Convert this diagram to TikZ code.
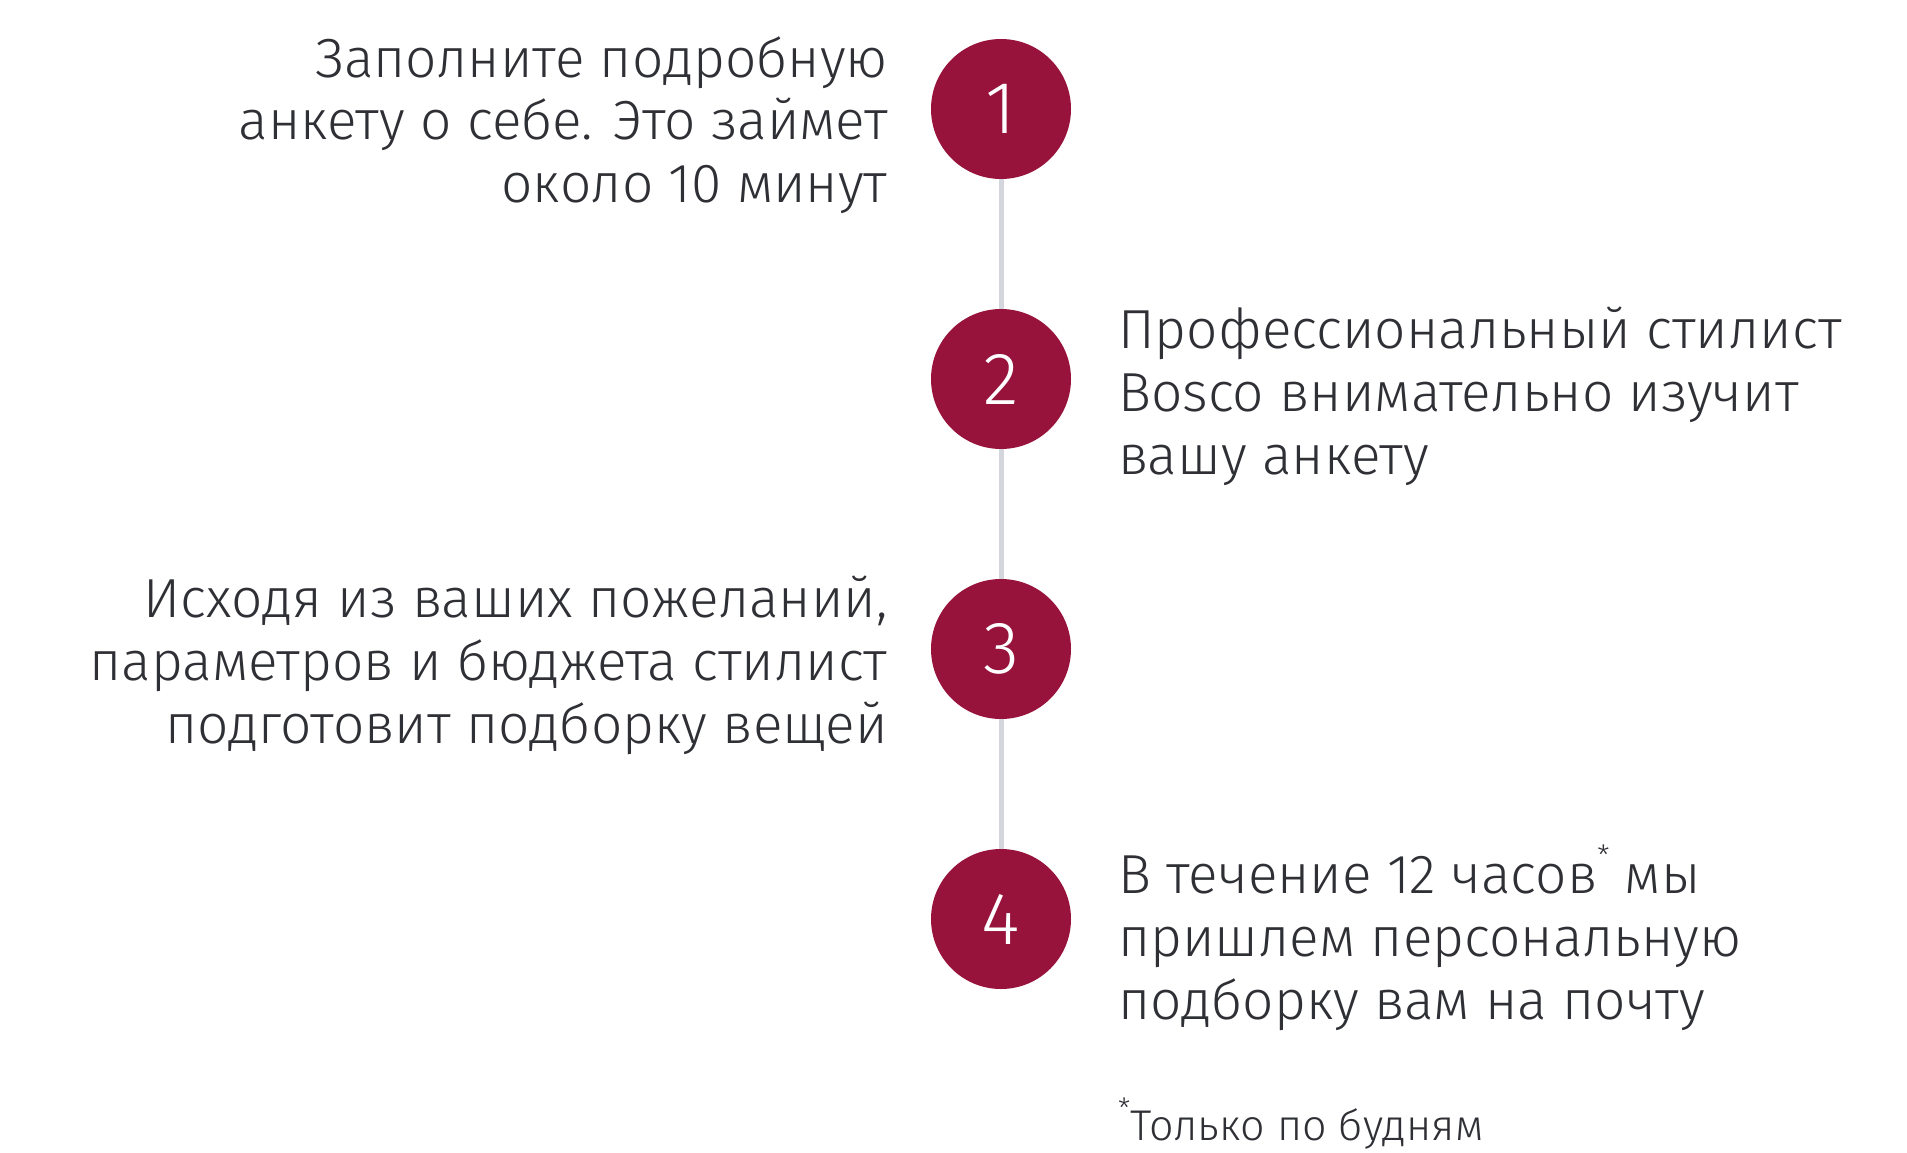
\documentclass[tikz,border=0pt]{standalone}
\usepackage{fontspec}
\setmainfont{Fira Sans Light}
\definecolor{crimson}{HTML}{97133B}
\definecolor{txt}{HTML}{2F3035}
\definecolor{linegray}{HTML}{D3D6DC}
\newcommand{\fnstar}{\raisebox{0.5em}{\fontsize{28}{28}\selectfont *}}
\begin{document}
\begin{tikzpicture}[x=1pt,y=-1pt]
\tikzset{
  stepcircle/.style={circle, fill=crimson, minimum size=140pt, inner sep=0pt, text=white, font=\fontsize{74}{74}\selectfont},
  desc/.style={inner sep=0pt, text=txt, font=\fontsize{55}{63}\selectfont},
  note/.style={inner sep=0pt, text=txt, font=\fontsize{43}{50}\selectfont},
  link/.style={draw=linegray, line width=5pt}
}
\useasboundingbox[fill=white] (0,0) rectangle (1907,1153);
\node[stepcircle] (c1) at (1001,109) {1};
\node[stepcircle] (c2) at (1001,379) {2};
\node[stepcircle] (c3) at (1001,649) {3};
\node[stepcircle] (c4) at (1001,919) {4};
\draw[link] (c1) -- (c2);
\draw[link] (c2) -- (c3);
\draw[link] (c3) -- (c4);
\node[desc, anchor=base east, align=right] (t1) at (888,203) {Заполните подробную\\анкету о себе. Это займет\\около 10 минут};
\node[desc, anchor=base west, align=left] (t2) at (1118,474) {Профессиональный стилист\\Bosco внимательно изучит\\вашу анкету};
\node[desc, anchor=base east, align=right] (t3) at (888,743) {Исходя из ваших пожеланий,\\параметров и бюджета стилист\\подготовит подборку вещей};
\node[desc, anchor=base west, align=left] (t4) at (1118,1019) {В течение 12 часов\fnstar{} мы\\пришлем персональную\\подборку вам на почту};
\node[note, anchor=base west] (fn) at (1118,1140) {\fnstar Только по будням};
\end{tikzpicture}
\end{document}
